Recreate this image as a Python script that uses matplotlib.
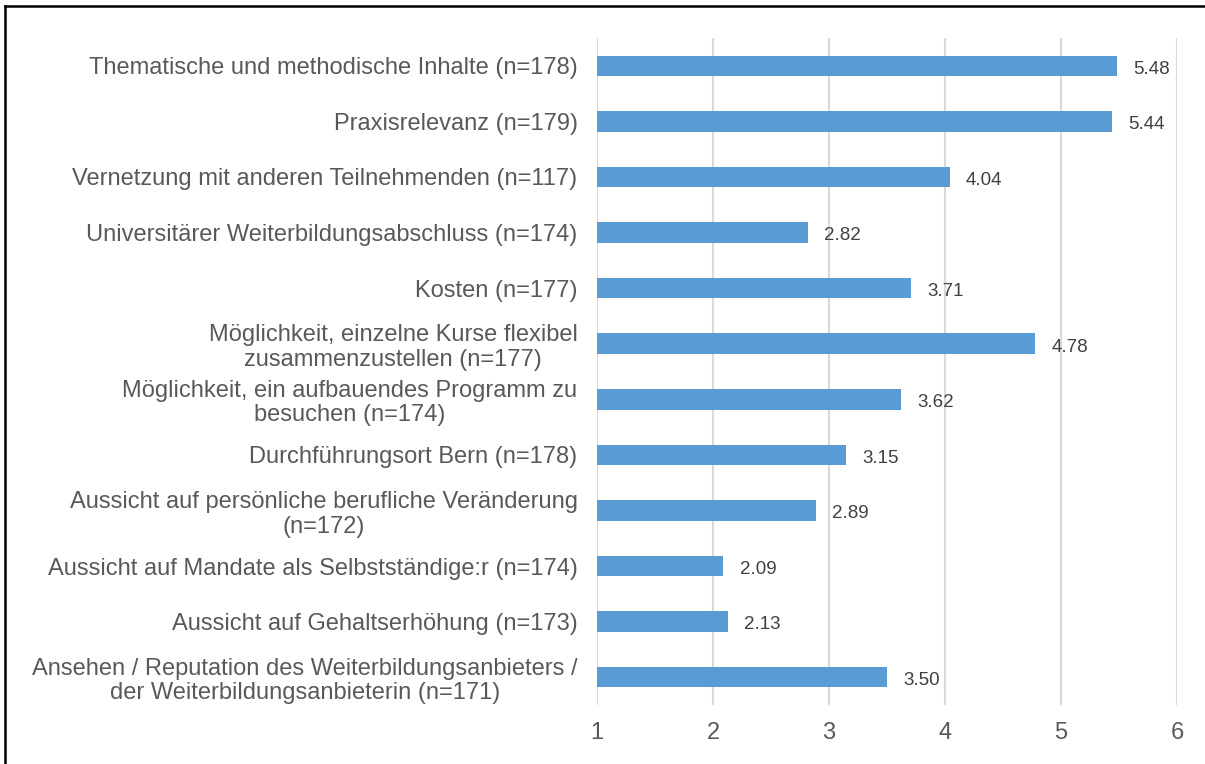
import numpy as np
import matplotlib.pyplot as plt
from matplotlib.lines import Line2D

plt.rcParams['font.family'] = ['Liberation Sans', 'DejaVu Sans']

# Kategorien (von oben nach unten)
categories = [
    "Thematische und methodische Inhalte (n=178)",
    "Praxisrelevanz (n=179)",
    "Vernetzung mit anderen Teilnehmenden (n=117)",
    "Universitärer Weiterbildungsabschluss (n=174)",
    "Kosten (n=177)",
    "Möglichkeit, einzelne Kurse flexibel\nzusammenzustellen (n=177)",
    "Möglichkeit, ein aufbauendes Programm zu\nbesuchen (n=174)",
    "Durchführungsort Bern (n=178)",
    "Aussicht auf persönliche berufliche Veränderung\n(n=172)",
    "Aussicht auf Mandate als Selbstständige:r (n=174)",
    "Aussicht auf Gehaltserhöhung (n=173)",
    "Ansehen / Reputation des Weiterbildungsanbieters /\nder Weiterbildungsanbieterin (n=171)",
]
means = [5.48, 5.44, 4.04, 2.82, 3.71, 4.78, 3.62, 3.15, 2.89, 2.09, 2.13, 3.50]
x_ticks = [1, 2, 3, 4, 5, 6]

bar_color = '#5B9BD5'
text_color = '#595959'

fig = plt.figure(figsize=(12.05, 7.64), dpi=100)
ax = fig.add_axes([597 / 1205, 1 - 705 / 764, 580 / 1205, 667 / 764])

y = np.arange(len(categories))
ax.barh(y, np.array(means) - 1, left=1, height=0.37, color=bar_color, zorder=3)

for yi, v in zip(y, means):
    ax.text(v + 0.14, yi + 0.06, f"{v:.2f}", va='center', ha='left',
            fontsize=13.5, color='#404040')

ax.set_xlim(1, 6)
ax.set_ylim(len(categories) - 0.5, -0.5)
ax.set_xticks(x_ticks)
ax.set_xticklabels([str(t) for t in x_ticks], fontsize=17, color=text_color)
ax.set_yticks(y)
ax.set_yticklabels(categories, fontsize=17, color=text_color,
                   multialignment='center', linespacing=1.15)
ax.tick_params(axis='y', length=0, pad=14)
ax.tick_params(axis='x', length=0, pad=12)

ax.grid(axis='x', color='#D9D9D9', linewidth=1.5, zorder=0)
for s in ax.spines.values():
    s.set_visible(False)

# Rahmen links und oben
fig.add_artist(Line2D([5 / 1205, 5 / 1205], [0, 1 - 6 / 764], color='black', linewidth=1.8))
fig.add_artist(Line2D([5 / 1205, 1], [1 - 6 / 764, 1 - 6 / 764], color='black', linewidth=1.8))

fig.savefig('out.png', dpi=100)
